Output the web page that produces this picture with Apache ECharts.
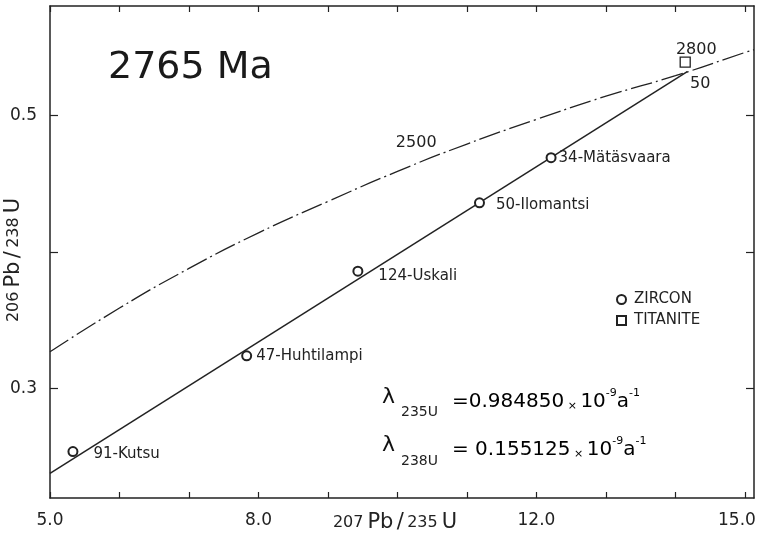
<!DOCTYPE html>
<html>
<head>
<meta charset="utf-8">
<script src="https://cdn.jsdelivr.net/npm/echarts@6/dist/echarts.min.js"></script>
<style>
  html, body { margin: 0; padding: 0; background: #ffffff; }
  #chart { width: 757px; height: 542px; }
</style>
</head>
<body>
<div id="chart"></div>
<script>
// Concordia curve: 207Pb/235U against 206Pb/238U
const concordiaX = [5.0, 6.0, 7.0, 8.0, 9.0, 10.0, 11.0, 12.0, 13.0, 14.0, 15.0, 15.13];
const concordiaY = [0.327, 0.359, 0.388, 0.414, 0.437, 0.459, 0.479, 0.497, 0.514, 0.529, 0.546, 0.548];

// Age marks on the concordia (Ma)
const ageNames = ['2500', '2800'];
const ageX = [10.73, 14.76];
const ageY = [0.474, 0.542];

// Discordia line through the zircon fractions
const discordiaX = [5.0, 14.17];
const discordiaY = [0.238, 0.532];

// Zircon fractions
const zirconNames = ['91-Kutsu', '47-Huhtilampi', '124-Uskali', '50-Ilomantsi', '34-Mätäsvaara'];
const zirconX = [5.33, 7.83, 9.43, 11.18, 12.21];
const zirconY = [0.254, 0.324, 0.386, 0.436, 0.469];

// Titanite fraction
const titaniteNames = ['50'];
const titaniteX = [14.14];
const titaniteY = [0.539];

// Axis ticks and labelled values
const xTicks = [5, 6, 7, 8, 9, 10, 11, 12, 13, 14, 15];
const xTickLabels = [5, 8, 12, 15];
const yTicks = [0.3, 0.4, 0.5];
const yTickLabels = [0.3, 0.5];

const INK = '#222222';
const FONT = 'DejaVu Sans';

// label placement for each zircon fraction: [gap to the right, vertical shift]
const zirconLabelPlace = [[15, 3], [4, 0], [15, 5], [11, 2], [2, 0]];

const zip = (xs, ys) => xs.map((x, i) => [x, ys[i]]);

// isotope ratio titles: small mass numbers, larger element symbols
const ratioRich = {
  n: { fontSize: 16, fontFamily: FONT, color: INK, verticalAlign: 'bottom', lineHeight: 24, padding: [0, 4, 2, 0] },
  e: { fontSize: 21, fontFamily: FONT, color: INK, verticalAlign: 'bottom', lineHeight: 24 }
};

const valueRich = {
  v: { fontSize: 20, fontFamily: FONT, color: '#111', verticalAlign: 'bottom', lineHeight: 24 },
  x: { fontSize: 11, fontFamily: FONT, color: '#111', verticalAlign: 'bottom', lineHeight: 22 },
  p: { fontSize: 11, fontFamily: FONT, color: '#111', verticalAlign: 'top', lineHeight: 24 }
};

const chart = echarts.init(document.getElementById('chart'), null, { renderer: 'canvas' });

const axisCommon = {
  type: 'value',
  axisLine: { show: true, onZero: false, lineStyle: { color: INK, width: 1.5 } },
  splitLine: { show: false }
};

const tickStyle = { color: INK, width: 1.2 };
const tickLabelStyle = { fontSize: 17, fontFamily: FONT, color: INK };

chart.setOption({
  animation: false,
  backgroundColor: '#ffffff',
  grid: { left: 50, right: 3, top: 6, bottom: 44, containLabel: false, outerBoundsMode: 'none' },
  legend: {
    data: ['ZIRCON', 'TITANITE'],
    orient: 'vertical',
    left: 611,
    top: 287,
    itemWidth: 9,
    itemHeight: 9,
    itemGap: 6,
    textStyle: { fontSize: 15, fontFamily: FONT, color: INK, padding: [0, 0, 0, 3] },
    selectedMode: false
  },
  xAxis: [
    Object.assign({}, axisCommon, {
      position: 'bottom', min: 5, max: 15.13,
      name: '{n|207}{e|Pb} {e|/} {n|235}{e|U}',
      nameLocation: 'middle', nameGap: 11, nameMoveOverlap: false,
      nameTextStyle: { rich: ratioRich, padding: [0, 14, 0, 0] },
      axisTick: { show: true, inside: true, length: 6, customValues: xTicks, lineStyle: tickStyle },
      axisLabel: Object.assign({
        show: true, customValues: xTickLabels, margin: 14,
        formatter: v => (v >= 15 ? '{r|' + Number(v).toFixed(1) + '}' : Number(v).toFixed(1)),
        rich: { r: Object.assign({ padding: [0, 16, 0, 0] }, tickLabelStyle) }
      }, tickLabelStyle)
    }),
    Object.assign({}, axisCommon, {
      position: 'top', min: 5, max: 15.13,
      axisTick: { show: true, inside: true, length: 6, customValues: xTicks, lineStyle: tickStyle },
      axisLabel: { show: false }
    })
  ],
  yAxis: [
    Object.assign({}, axisCommon, {
      position: 'left', min: 0.22, max: 0.58,
      name: '{n|206}{e|Pb} {e|/} {n|238}{e|U}',
      nameLocation: 'middle', nameGap: 26, nameRotate: 90, nameMoveOverlap: false,
      nameTextStyle: { rich: ratioRich, padding: [0, 16, 0, 0] },
      axisTick: { show: true, inside: true, length: 8, customValues: yTicks, lineStyle: tickStyle },
      axisLabel: Object.assign({
        show: true, customValues: yTickLabels, margin: 13,
        formatter: v => Number(v).toFixed(1)
      }, tickLabelStyle)
    }),
    Object.assign({}, axisCommon, {
      position: 'right', min: 0.22, max: 0.58,
      axisTick: { show: true, inside: true, length: 8, customValues: yTicks, lineStyle: tickStyle },
      axisLabel: { show: false }
    })
  ],
  series: [
    {
      name: 'concordia',
      type: 'line',
      data: zip(concordiaX, concordiaY),
      smooth: true,
      symbol: 'none',
      silent: true,
      lineStyle: { color: INK, width: 1.3, type: [22, 4, 2, 4] },
      z: 2
    },
    {
      name: 'discordia',
      type: 'line',
      data: zip(discordiaX, discordiaY),
      symbol: 'none',
      silent: true,
      lineStyle: { color: INK, width: 1.5 },
      z: 2
    },
    {
      name: 'ages',
      type: 'scatter',
      data: ageNames.map((n, i) => ({ name: n, value: [ageX[i], ageY[i]] })),
      symbolSize: 0,
      itemStyle: { color: 'rgba(0,0,0,0)', opacity: 1 },
      silent: true,
      label: {
        show: true, position: 'inside', offset: [-32, -8], opacity: 1,
        formatter: p => p.name, fontSize: 16, fontFamily: FONT, color: INK
      },
      z: 3
    },
    {
      name: 'ZIRCON',
      type: 'scatter',
      symbol: 'emptyCircle',
      symbolSize: 9,
      itemStyle: { color: INK, borderWidth: 1.3, opacity: 1 },
      data: zirconNames.map((n, i) => ({
        name: n,
        value: [zirconX[i], zirconY[i]],
        label: { distance: zirconLabelPlace[i][0], offset: [0, zirconLabelPlace[i][1]] }
      })),
      label: {
        show: true, position: 'right', opacity: 1,
        formatter: p => p.name, fontSize: 15, fontFamily: FONT, color: INK
      },
      z: 4
    },
    {
      name: 'TITANITE',
      type: 'scatter',
      symbol: 'rect',
      symbolSize: 10,
      itemStyle: { color: '#ffffff', borderColor: INK, borderWidth: 1.3, opacity: 1 },
      data: titaniteNames.map((n, i) => ({ name: n, value: [titaniteX[i], titaniteY[i]] })),
      label: {
        show: true, position: 'inside', offset: [15, 22], opacity: 1,
        formatter: p => p.name, fontSize: 16, fontFamily: FONT, color: INK
      },
      z: 4
    }
  ],
  graphic: [
    {
      type: 'text', left: 108, top: 49,
      style: { text: '2765 Ma', font: '38px "DejaVu Sans"', fill: '#1a1a1a' }
    },
    { type: 'text', left: 382, top: 386, style: { text: 'λ', font: '22px "DejaVu Sans"', fill: '#111' } },
    { type: 'text', left: 401, top: 405, style: { text: '235U', font: '14px "DejaVu Sans"', fill: INK } },
    {
      type: 'text', left: 452, top: 388,
      style: { text: '{v|=0.984850}{x| × }{v|10}{p|-9}{v|a}{p|-1}', rich: valueRich }
    },
    { type: 'text', left: 382, top: 434, style: { text: 'λ', font: '22px "DejaVu Sans"', fill: '#111' } },
    { type: 'text', left: 401, top: 454, style: { text: '238U', font: '14px "DejaVu Sans"', fill: INK } },
    {
      type: 'text', left: 452, top: 436,
      style: { text: '{v|= 0.155125}{x| × }{v|10}{p|-9}{v|a}{p|-1}', rich: valueRich }
    }
  ]
});
</script>
</body>
</html>
